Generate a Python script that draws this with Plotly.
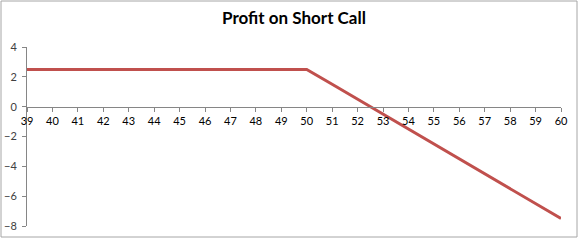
import plotly.graph_objects as go

prices = [39, 40, 41, 42, 43, 44, 45, 46, 47, 48, 49, 50, 51, 52, 53, 54, 55, 56, 57, 58, 59, 60]
profit = [2.5, 2.5, 2.5, 2.5, 2.5, 2.5, 2.5, 2.5, 2.5, 2.5, 2.5, 2.5, 1.5, 0.5, -0.5, -1.5, -2.5, -3.5, -4.5, -5.5, -6.5, -7.5]
y_ticks = [4, 2, 0, -2, -4, -6, -8]
title = "Profit on Short Call"

W, H = 580, 240
L, R, T, B = 27, 19, 47, 14
pw, ph = W - L - R, H - T - B

def px_to_paper(x, y):
    return (x - L) / pw, (H - B - y) / ph

fig = go.Figure()
fig.add_trace(go.Scatter(x=prices, y=profit, mode="lines",
                         line=dict(color="#C0504D", width=3), hoverinfo="skip"))

x0, y0 = px_to_paper(1, 1)
x1, y1 = px_to_paper(577, 237)
fig.add_shape(type="rect", xref="paper", yref="paper", x0=x0, y0=y1, x1=x1, y1=y0,
              line=dict(color="#A6A6A6", width=1), layer="below")

font_fam = "Lato, Open Sans, sans-serif"
fig.update_layout(
    width=W, height=H, margin=dict(l=L, r=R, t=T, b=B, autoexpand=False),
    paper_bgcolor="white", plot_bgcolor="white", showlegend=False,
    title=dict(text=f"<b>{title}</b>", x=0.5, xref="paper", xanchor="center",
               y=1 - 18 / H, yanchor="middle",
               font=dict(family=font_fam, size=17, color="#000000")),
    xaxis=dict(range=[39, 60], tickvals=prices, ticktext=[str(p) for p in prices],
               anchor="free", position=8 / 12, showgrid=False, zeroline=False,
               showline=True, linecolor="#868686", linewidth=1, automargin=False,
               ticks="outside", ticklen=4, tickcolor="#868686", ticklabelstandoff=0,
               tickfont=dict(family=font_fam, size=11, color="#000000")),
    yaxis=dict(range=[-8, 4], tickvals=y_ticks, showgrid=False, zeroline=False,
               showline=True, linecolor="#868686", linewidth=1, automargin=False,
               ticks="outside", ticklen=4, tickcolor="#868686", ticklabelstandoff=3,
               tickfont=dict(family=font_fam, size=11, color="#404040")),
)
fig.write_html("out.html")
